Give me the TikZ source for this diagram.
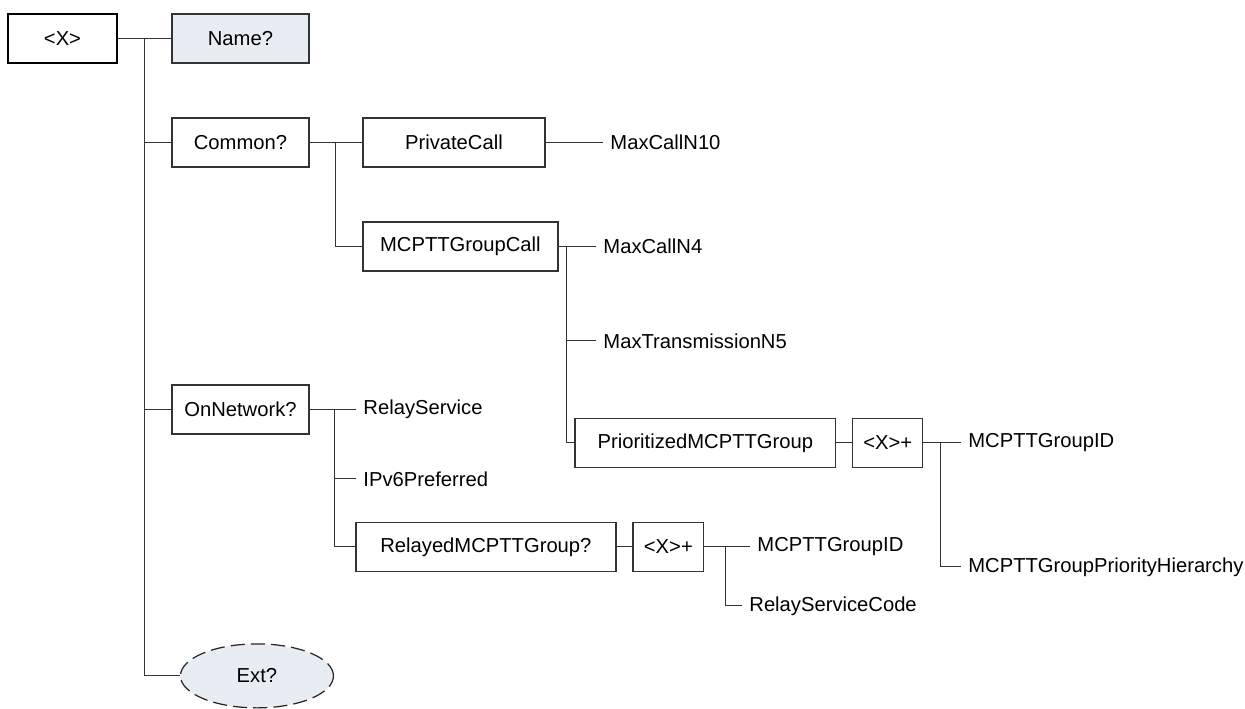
\documentclass[tikz,border=0pt]{standalone}
\usepackage{fontspec}
\setmainfont{Liberation Sans}
\usepackage{tikz}
\usetikzlibrary{
	shapes.geometric,
	positioning,
}
\definecolor{optfill}{HTML}{E8ECF3}
\tikzset{element/.style={
		% The shape:
		rectangle,
		% The size:
		minimum height=9.8mm,
		% The border:
		line width=0.7pt,
		draw=black!80,
}}
\tikzset{leaf/.style={
		% The anchor:
		anchor=west,
		inner xsep=4pt,
}}
\tikzset{extension/.style={
		% The shape:
		ellipse,
		% The size:
		minimum width=30.6mm,
		minimum height=12.8mm,
		% The border:
		line width=0.7pt,
		draw=black!85,
		dash pattern=on 8pt off 3.5pt,
		fill=optfill,
}}

\begin{document}
\begin{tikzpicture}[
	x=0.02cm, y=-0.02cm,
	black!80, line width=0.6pt,
	text=black,
	font=\fontsize{11.5}{14}\selectfont,
	node distance = 1.6cm
	]
	\useasboundingbox (0,0) rectangle (1245,708);
	
	%% first level
	\node (root)[element, draw=black, line width=1.1pt, minimum width=21.8mm] at (62.5,38.5) {<X>};
	\node (name)[element, fill=optfill, minimum width=27.4mm] [right of=root, node distance=35.6mm] {Name?};
	\node (common)[element, minimum width=27.4mm] [below of=name, node distance=20.8mm] {Common?};
	\node (onnet)[element, minimum width=27.4mm] [below of=common, node distance=53.4mm] {OnNetwork?};
	\node (ext)[extension] [below of=onnet, node distance=53.3mm, xshift=3.3mm] {Ext?};
	
	%% common
	\node (privcall)[element, minimum width=36.4mm] [right of=common, node distance=42.7mm] {PrivateCall};
	\node (grpcall)[element, minimum width=39mm] [below of=privcall, node distance=20.8mm, xshift=1.3mm] {MCPTTGroupCall};
	\node (maxcall10)[leaf] [right of=privcall, anchor=west, node distance=29.8mm] {MaxCallN10};
	\node (maxcall4)[leaf] [right of=grpcall, anchor=west, node distance=27.1mm] {MaxCallN4};
	\node (maxtrans)[leaf, yshift=-18.9mm] at (maxcall4.west) {MaxTransmissionN5};
	\node (prio)[element, minimum width=52.2mm] [below of=grpcall, node distance=39.3mm, xshift=49mm] {PrioritizedMCPTTGroup};
	\node (xplus1)[element, minimum width=14mm] [right of=prio, node distance=36.5mm] {<X>+};
	\node (grpid1)[leaf] [right of=xplus1, anchor=west, node distance=14.6mm] {MCPTTGroupID};
	\node (hier)[leaf, yshift=-24.8mm] at (grpid1.west) {MCPTTGroupPriorityHierarchy};
	
	%% on network
	\node (relaysvc)[leaf] [right of=onnet, anchor=west, node distance=23.1mm] {RelayService};
	\node (ipv6)[leaf, yshift=-13.9mm] at (relaysvc.west) {IPv6Preferred};
	\node (relayed)[element, minimum width=52mm] [below of=onnet, node distance=27.5mm, xshift=49.1mm] {RelayedMCPTTGroup?};
	\node (xplus2)[element, minimum width=14.2mm] [right of=relayed, node distance=36.5mm] {<X>+};
	\node (grpid2)[leaf] [right of=xplus2, anchor=west, node distance=16.3mm] {MCPTTGroupID};
	\node (rscode)[leaf, xshift=-1.6mm, yshift=-11.8mm] at (grpid2.west) {RelayServiceCode};
	
	%% from root
	\draw (root.east) -- ++(27,0) coordinate (trunk) -- (name.west);
	\draw (trunk) |- (common.west);
	\draw (trunk) |- (onnet.west);
	\draw (trunk) |- (ext.west);
	
	%% from common
	\draw (common.east) -- ++(26,0) coordinate (busC) -- (privcall.west);
	\draw (busC) |- (grpcall.west);
	\draw (privcall.east) -- (maxcall10.west);
	\draw (grpcall.east) -- ++(8,0) coordinate (busG) -- (maxcall4.west);
	\draw (busG) |- (maxtrans.west);
	\draw (busG) |- (prio.west);
	\draw (prio.east) -- (xplus1.west);
	\draw (xplus1.east) -- ++(17,0) coordinate (busP) -- (grpid1.west);
	\draw (busP) |- (hier.west);
	
	%% from on network
	\draw (onnet.east) -- ++(25,0) coordinate (busN) -- (relaysvc.west);
	\draw (busN) |- (ipv6.west);
	\draw (busN) |- (relayed.west);
	\draw (relayed.east) -- (xplus2.west);
	\draw (xplus2.east) -- ++(21,0) coordinate (busX) -- (grpid2.west);
	\draw (busX) |- (rscode.west);
	
\end{tikzpicture}
\end{document}
